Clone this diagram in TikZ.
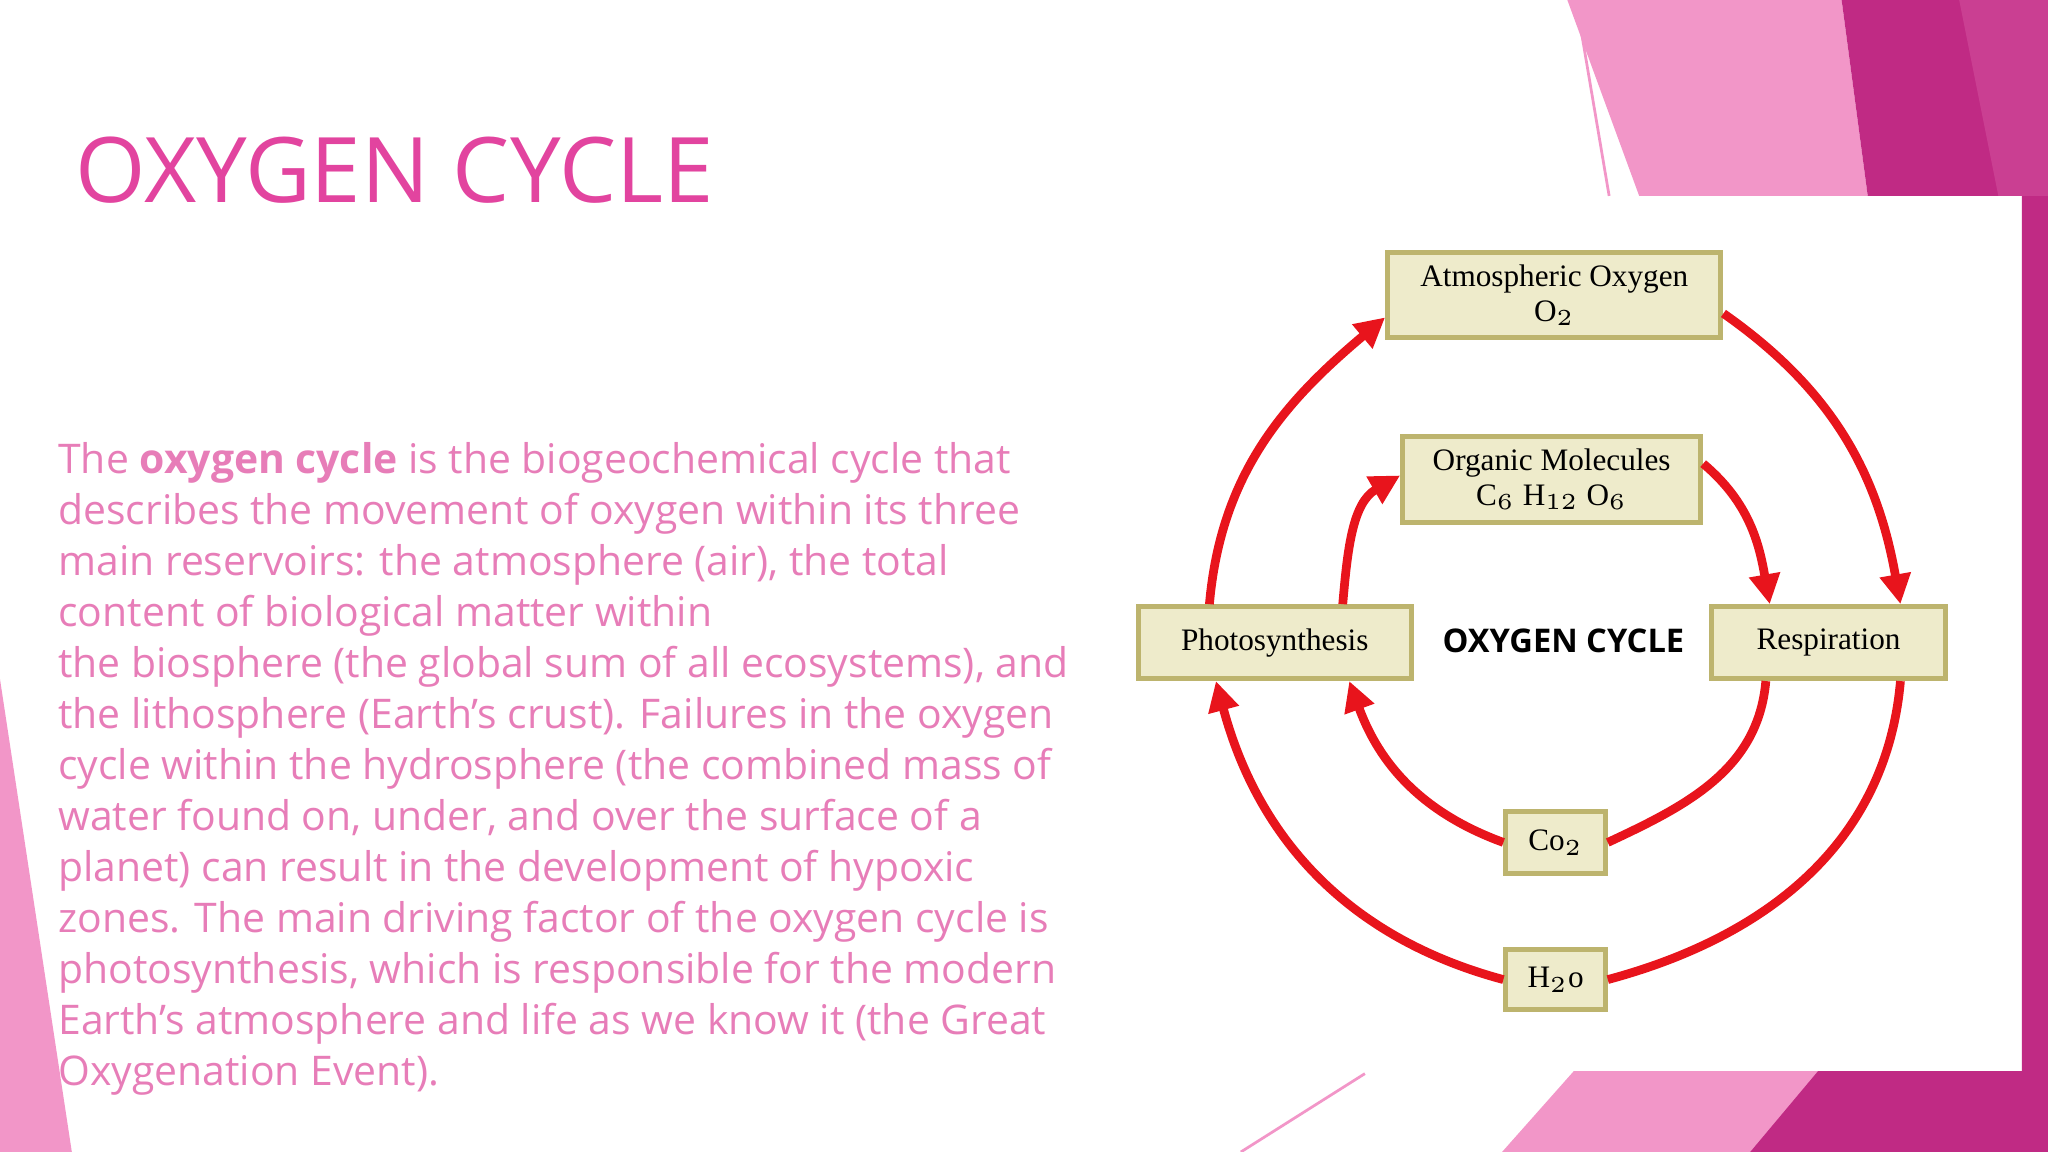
\documentclass[tikz,border=0pt]{standalone}
\usepackage{fontspec}
\setsansfont{Open Sans}
\newfontfamily\boxfont{Liberation Serif}
\usetikzlibrary{arrows.meta}
\definecolor{titlepink}{HTML}{E2449F}
\definecolor{textpink}{HTML}{E77DB8}
\definecolor{lightpink}{HTML}{F296C8}
\definecolor{magenta}{HTML}{C02A84}
\definecolor{boxfill}{HTML}{EEEBCB}
\definecolor{boxline}{HTML}{BDB46E}
\definecolor{arrowred}{HTML}{E8141C}
\tikzset{
  x=0.01cm, y=-0.01cm,
  cbox/.style={draw=boxline, fill=boxfill, line width=1.1pt, inner sep=0pt, font=\boxfont\fontsize{6.8}{7.6}\selectfont, align=center},
  cyc/.style={draw=arrowred, line width=1.9pt},
  cyca/.style={cyc, -{Triangle[length=6.5pt,width=6.5pt]}}
}
\begin{document}
\begin{tikzpicture}
\useasboundingbox (0,0) rectangle (1568,882);
% decorations
\fill[lightpink] (1200,0)--(1410,0)--(1430,150)--(1255,150)--cycle;
\fill[magenta] (1410,0)--(1568,0)--(1568,882)--(1548,882)--(1548,150)--(1430,150)--cycle;
\fill[magenta!80!lightpink] (1500,0)--(1568,0)--(1568,150)--(1530,150)--cycle;
\draw[lightpink, line width=0.6pt] (1210,20)--(1232,150);
\fill[lightpink] (1150,882)--(1205,820)--(1548,820)--(1548,882)--cycle;
\fill[magenta] (1340,882)--(1392,820)--(1548,820)--(1548,882)--cycle;
\draw[lightpink, line width=0.6pt] (950,882)--(1045,822);
\fill[lightpink] (0,520)--(55,882)--(0,882)--cycle;
% title
\node[anchor=base west, text=titlepink, font=\sffamily\fontsize{19.7}{23}\selectfont, inner sep=0pt] (title) at (57,155) {OXYGEN CYCLE};
% body
\node[anchor=north west, text=textpink, align=left, inner sep=0pt, font=\sffamily\fontsize{8.9}{11.1}\selectfont] (body) at (44,338) {The \textbf{oxygen cycle} is the biogeochemical cycle that\\
describes the movement of oxygen within its three\\
main reservoirs: the atmosphere (air), the total\\
content of biological matter within\\
the biosphere (the global sum of all ecosystems), and\\
the lithosphere (Earth's crust). Failures in the oxygen\\
cycle within the hydrosphere (the combined mass of\\
water found on, under, and over the surface of a\\
planet) can result in the development of hypoxic\\
zones. The main driving factor of the oxygen cycle is\\
photosynthesis, which is responsible for the modern\\
Earth's atmosphere and life as we know it (the Great\\
Oxygenation Event).};
% diagram boxes
\node[cbox, minimum width=2.55cm, minimum height=0.65cm] (atm) at (1190,226) {Atmospheric Oxygen\\O$_2$};
\node[cbox, minimum width=2.28cm, minimum height=0.66cm] (org) at (1188,367) {Organic Molecules\\C$_6$ H$_{12}$ O$_6$};
\node[cbox, minimum width=2.09cm, minimum height=0.55cm] (pho) at (976,492) {Photosynthesis};
\node[cbox, minimum width=1.79cm, minimum height=0.55cm] (res) at (1400,492) {Respiration};
\node[cbox, minimum width=0.76cm, minimum height=0.47cm] (co2) at (1191,645) {Co$_2$};
\node[cbox, minimum width=0.76cm, minimum height=0.46cm] (h2o) at (1191,750) {H$_2$o};
\node[font=\sffamily\bfseries\fontsize{7.1}{9}\selectfont] (lbl) at (1197,491) {OXYGEN CYCLE};
% outer arrows
\draw[cyca] ([xshift=-0.50cm]pho.north) to[out=85,in=220] ([yshift=-0.17cm]atm.west);
\draw[cyca] ([yshift=-0.14cm]atm.east) to[out=-35,in=100] ([xshift=0.55cm]res.north);
\draw[cyc] ([xshift=0.55cm]res.south) to[out=-95,in=15] (h2o.east);
\draw[cyca] (h2o.west) to[out=165,in=-75] ([xshift=-0.45cm]pho.south);
% inner arrows
\draw[cyca] ([xshift=0.52cm]pho.north) to[out=85,in=210] ([yshift=0.03cm]org.west);
\draw[cyca] ([yshift=0.12cm]org.east) to[out=-40,in=100] ([xshift=-0.45cm]res.north);
\draw[cyc] ([xshift=-0.48cm]res.south) to[out=-95,in=25] (co2.east);
\draw[cyca] (co2.west) to[out=160,in=-70] ([xshift=0.57cm]pho.south);
\end{tikzpicture}
\end{document}
